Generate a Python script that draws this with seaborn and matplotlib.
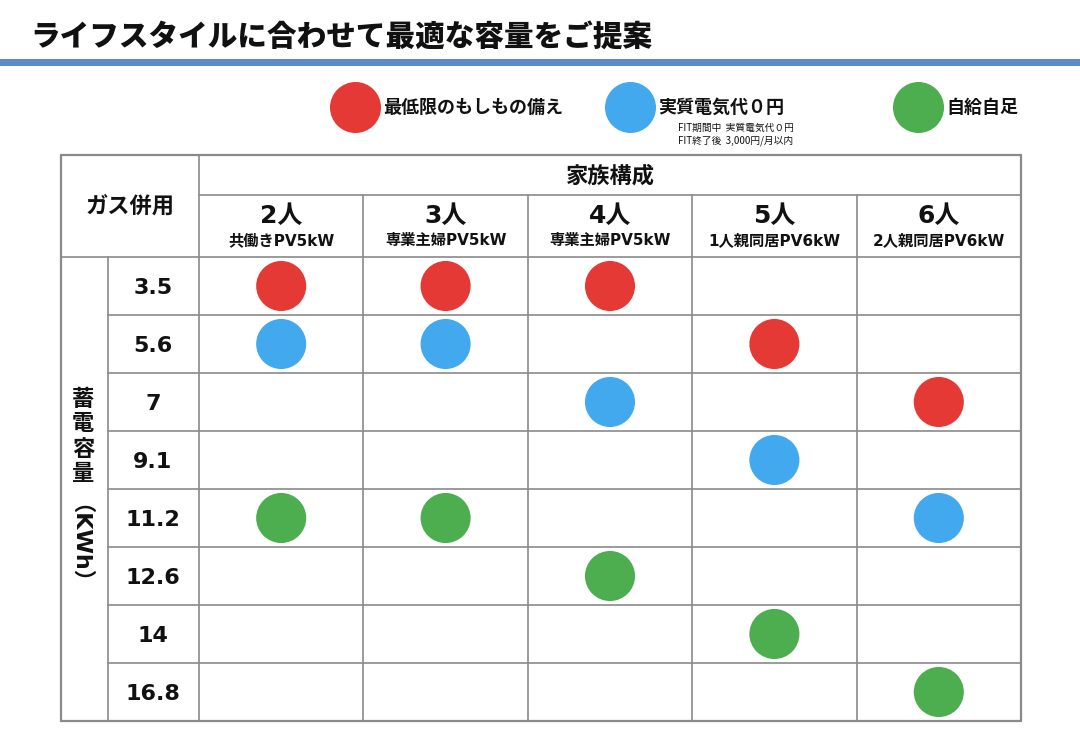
import pandas as pd
import matplotlib.pyplot as plt
import seaborn as sns
from matplotlib.patches import Rectangle

# table data
title = "ライフスタイルに合わせて最適な容量をご提案"
capacities = ["3.5", "5.6", "7", "9.1", "11.2", "12.6", "14", "16.8"]
households = ["2人", "3人", "4人", "5人", "6人"]
household_notes = ["共働きPV5kW", "専業主婦PV5kW", "専業主婦PV5kW", "1人親同居PV6kW", "2人親同居PV6kW"]
plans = ["最低限のもしもの備え", "実質電気代０円", "自給自足"]
plan_colors = ["#e53935", "#42a9ef", "#4cae4f"]

mark_household = ["2人", "3人", "4人",
                  "2人", "3人", "5人",
                  "4人", "6人",
                  "5人",
                  "2人", "3人", "6人",
                  "4人", "5人", "6人"]
mark_capacity = ["3.5", "3.5", "3.5",
                 "5.6", "5.6", "5.6",
                 "7", "7",
                 "9.1",
                 "11.2", "11.2", "11.2",
                 "12.6", "14", "16.8"]
mark_plan = ["最低限のもしもの備え"] * 3 + \
            ["実質電気代０円", "実質電気代０円", "最低限のもしもの備え"] + \
            ["実質電気代０円", "最低限のもしもの備え"] + \
            ["実質電気代０円"] + \
            ["自給自足", "自給自足", "実質電気代０円"] + \
            ["自給自足", "自給自足", "自給自足"]

df = pd.DataFrame({"household": mark_household, "capacity": mark_capacity, "plan": mark_plan})
df["col"] = pd.Categorical(df["household"], categories=households).codes
df["row"] = pd.Categorical(df["capacity"], categories=capacities).codes

sns.set_theme(style="white")
plt.rcParams['font.family'] = ['DejaVu Sans', 'Noto Sans CJK JP']
plt.rcParams['text.color'] = '#111111'

W, H = 1080, 744
fig = plt.figure(figsize=(10.8, 7.44), dpi=100)

# frame axes in pixel units for the table decoration
base = fig.add_axes([0, 0, 1, 1])
base.set_xlim(0, W)
base.set_ylim(H, 0)
base.axis('off')
base.set_zorder(0)

# data area of the table
left, right, top, bottom = 199, 1021, 257, 721
ax = fig.add_axes([left / W, (H - bottom) / H, (right - left) / W, (bottom - top) / H])
ax.set_zorder(1)
ax.patch.set_visible(False)
sns.scatterplot(data=df, x="col", y="row", hue="plan", hue_order=plans,
                palette=dict(zip(plans, plan_colors)), s=1300, linewidth=0,
                legend=False, ax=ax)
ax.set_xlim(-0.5, len(households) - 0.5)
ax.set_ylim(len(capacities) - 0.5, -0.5)
ax.axis('off')

grid = "#8a8a8a"
lw = 1.2
col_w = (right - left) / len(households)
row_h = (bottom - top) / len(capacities)

# title and header bar
base.text(30, 37, title, fontsize=21.3, fontweight='heavy', va='center', ha='left',
          family=['Noto Sans CJK JP'])
base.add_patch(Rectangle((0, 59), W, 7, color="#5b8bc8", lw=0))

# legend
legend_x = [355, 630, 918]
for x, name, c in zip(legend_x, plans, plan_colors):
    base.scatter([x], [107], s=1350, color=c, linewidth=0)
    base.text(x + 28, 107, name, fontsize=13, fontweight='bold', va='center', ha='left',
              family=['Noto Sans CJK JP'])
base.text(678, 128, "FIT期間中  実質電気代０円", fontsize=7, va='center', ha='left',
          family=['Noto Sans CJK JP'])
base.text(678, 141, "FIT終了後  3,000円/月以内", fontsize=7, va='center', ha='left',
          family=['Noto Sans CJK JP'])

# table lines
base.plot([61, right], [155, 155], color=grid, lw=1.6)
base.plot([61, right], [bottom, bottom], color=grid, lw=1.6)
base.plot([61, 61], [155, bottom], color=grid, lw=1.6)
base.plot([right, right], [155, bottom], color=grid, lw=1.6)
base.plot([left, right], [195, 195], color=grid, lw=lw)
base.plot([61, right], [top, top], color=grid, lw=lw)
base.plot([left, left], [155, bottom], color=grid, lw=lw)
base.plot([108, 108], [top, bottom], color=grid, lw=lw)
for k in range(1, len(households)):
    x = left + k * col_w
    base.plot([x, x], [195, bottom], color=grid, lw=lw)
for k in range(1, len(capacities)):
    y = top + k * row_h
    base.plot([108, right], [y, y], color=grid, lw=lw)

# header text
base.text((left + right) / 2, 176, "家族構成", fontsize=16, fontweight='bold',
          ha='center', va='center')
base.text(130, 206, "ガス併用", fontsize=16, fontweight='bold', ha='center', va='center')
for k, (h, note) in enumerate(zip(households, household_notes)):
    cx = left + (k + 0.5) * col_w
    base.text(cx, 216, h, fontsize=18, fontweight='bold', ha='center', va='center')
    base.text(cx, 241, note, fontsize=11, fontweight='bold', ha='center', va='center')

# row labels
for k, cap in enumerate(capacities):
    cy = top + (k + 0.5) * row_h + 2
    base.text(153, cy, cap, fontsize=16, fontweight='bold', ha='center', va='center')

# vertical axis title
for ch, y in zip("蓄電容量", [399, 424, 449, 474]):
    base.text(83, y, ch, fontsize=16, fontweight='bold', ha='center', va='center',
              family=['Noto Sans CJK JP'])
base.text(68, 555, "（KWh）", fontsize=16, fontweight='bold', ha='center', va='center',
          rotation=-90, rotation_mode='anchor')

fig.savefig("out.png", dpi=100)
plt.close(fig)
